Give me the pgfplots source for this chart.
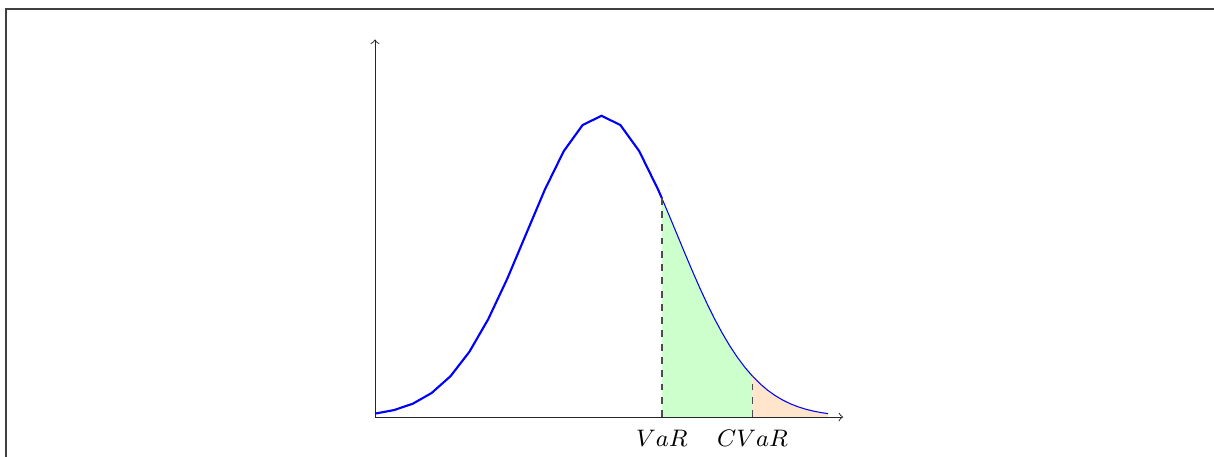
\documentclass[border=0pt]{standalone}
\usepackage{pgfplots}
\pgfplotsset{compat=1.18}
\begin{document}
\begin{tikzpicture}
\draw[line width=0.5pt, black!75] (-7.887,-3) rectangle (12,5.404);
\begin{axis}[
  at={(0,0)}, anchor=origin,
  x=1cm, y=10cm,
  xmin=-3, xmax=3.2, ymin=0, ymax=0.5,
  axis lines=left,
  axis line style={-to, black!85, line width=0.35pt},
  xtick={0.8,2}, xticklabels={$VaR$,$CVaR$},
  ytick=\empty,
  major tick length=0pt,
  xticklabel style={font=\small, yshift=-1.5pt},
  clip=false,
]
\addplot[fill=green!20, draw=none] coordinates {
(0.8,0) (0.8,0.289692) (0.9,0.266085) (1.0,0.241971) (1.1,0.217852) (1.2,0.194186)
(1.3,0.171369) (1.4,0.149727) (1.5,0.129518) (1.6,0.110921) (1.7,0.094049)
(1.8,0.078950) (1.9,0.065616) (2.0,0.053991) (2.0,0)} -- cycle;
\addplot[fill=orange!20, draw=none] coordinates {
(2.0,0) (2.0,0.053991) (2.1,0.043984) (2.2,0.035475) (2.3,0.028327) (2.4,0.022395)
(2.5,0.017528) (2.6,0.013583) (2.7,0.010421) (2.8,0.007915) (2.9,0.005953)
(3.0,0.004432) (3.0,0)} -- cycle;
\addplot[blue, thick] coordinates {
(-3,0.004432) (-2.75,0.009094) (-2.5,0.017528) (-2.25,0.031740) (-2,0.053991)
(-1.75,0.086277) (-1.5,0.129518) (-1.25,0.182649) (-1,0.241971) (-0.75,0.301137)
(-0.5,0.352065) (-0.25,0.386668) (0,0.398942) (0.25,0.386668) (0.5,0.352065)
(0.75,0.301137) (0.8,0.289692)};
\addplot[blue] coordinates {
(0.8,0.289692) (0.9,0.266085) (1.0,0.241971) (1.1,0.217852) (1.2,0.194186)
(1.3,0.171369) (1.4,0.149727) (1.5,0.129518) (1.6,0.110921) (1.7,0.094049)
(1.8,0.078950) (1.9,0.065616) (2.0,0.053991) (2.1,0.043984) (2.2,0.035475)
(2.3,0.028327) (2.4,0.022395) (2.5,0.017528) (2.6,0.013583) (2.7,0.010421)
(2.8,0.007915) (2.9,0.005953) (3.0,0.004432)};
\addplot[black!70, line width=0.7pt, dash pattern=on 2.6pt off 2.4pt] coordinates {(0.8,0) (0.8,0.289692)};
\addplot[black!70, line width=0.7pt, dash pattern=on 2.6pt off 2.4pt] coordinates {(2.0,0) (2.0,0.053991)};
\end{axis}
\pgfresetboundingbox
\useasboundingbox (-7.967,-0.530) rectangle (8.113,5.523);
\end{tikzpicture}
\end{document}
